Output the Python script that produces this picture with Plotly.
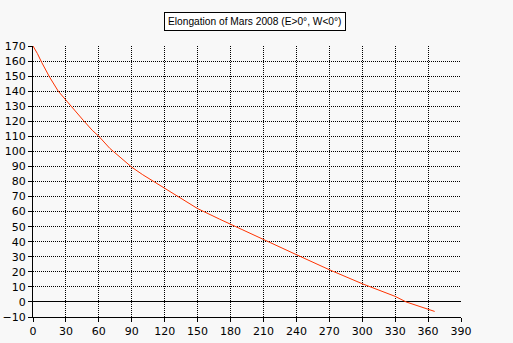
import plotly.graph_objects as go

days = [0, 4, 8, 15, 23, 30, 37, 46, 54, 60, 70, 80, 90, 100, 110, 120, 135, 150,
        170, 190, 210, 240, 270, 300, 330, 340, 360, 366]
elong = [170, 165, 159, 149.5, 140, 134, 127.5, 120.5, 114, 110, 102, 95.5, 89.5,
         84.5, 80, 76, 69, 62, 55, 48.5, 41.5, 31.4, 21.4, 12.1, 3.7, 0, -5, -6.3]
title_text = "Elongation of Mars 2008 (E>0°, W<0°)"
x_ticks = list(range(0, 391, 30))
y_ticks = list(range(-10, 171, 10))

fig = go.Figure()
fig.add_trace(go.Scatter(x=days, y=elong, mode="lines",
                         line=dict(color="#ff3300", width=1),
                         hoverinfo="skip", showlegend=False))

axis_common = dict(showgrid=True, gridcolor="black", griddash="1px,1px", gridwidth=1,
                   showline=True, linecolor="black", linewidth=1,
                   ticks="outside", ticklen=4, tickcolor="black",
                   tickfont=dict(family="DejaVu Sans", size=11, color="black"),
                   mirror=False, automargin=False)
fig.update_xaxes(range=[0, 390], tickvals=x_ticks, zeroline=False, **axis_common)
fig.update_yaxes(range=[-10, 170], tickvals=y_ticks, zeroline=True,
                 zerolinecolor="black", zerolinewidth=1, **axis_common)

fig.add_annotation(text=title_text, xref="paper", yref="paper", x=0.518, y=1.0,
                   yshift=34, showarrow=False, bgcolor="white",
                   bordercolor="black", borderwidth=1, borderpad=3,
                   font=dict(family="Liberation Sans", size=10.2, color="black"))

fig.update_layout(width=513, height=343,
                  margin=dict(l=33, r=52, t=46, b=26),
                  paper_bgcolor="#f8f8f8", plot_bgcolor="#f8f8f8")
fig.write_html("out.html")
